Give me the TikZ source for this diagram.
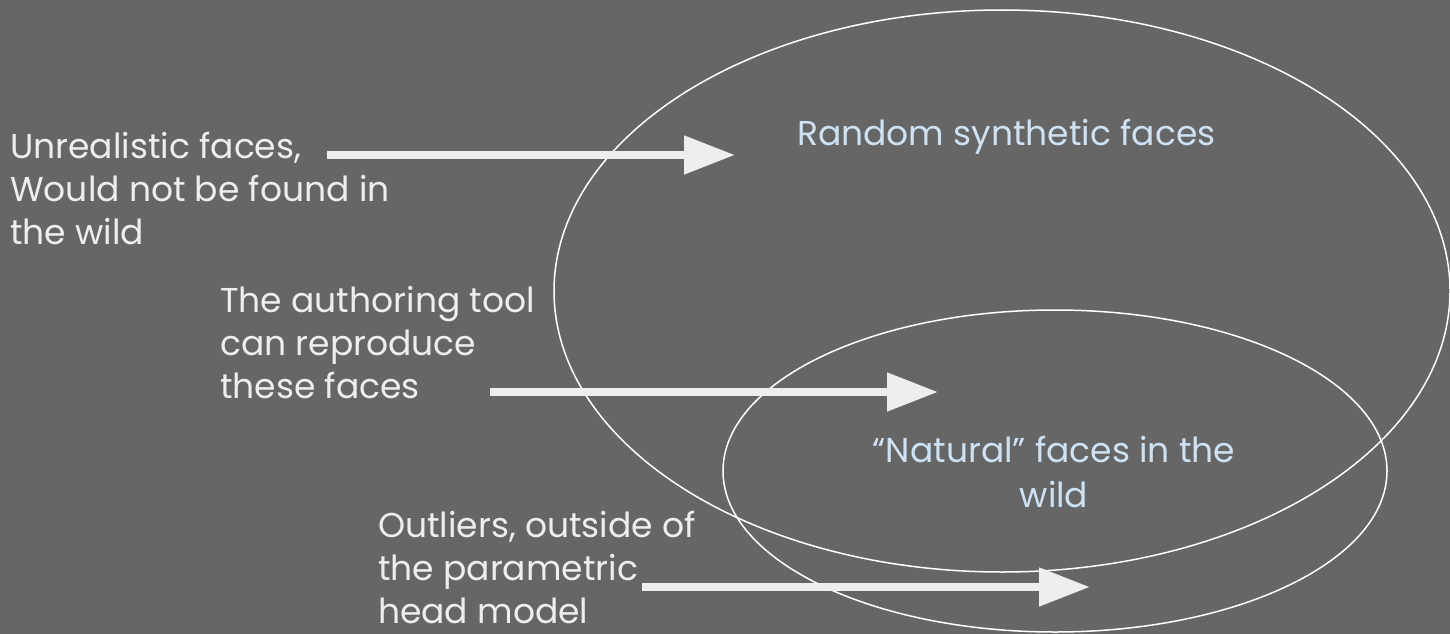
\documentclass[tikz,border=0pt]{standalone}
\usepackage{fontspec}
\setmainfont{Poppins}
\usetikzlibrary{arrows.meta,shapes.geometric}
\definecolor{bg}{HTML}{666666}
\definecolor{arrowgray}{HTML}{EEEEEE}
\definecolor{labelwhite}{HTML}{EEEEEE}
\definecolor{labelblue}{HTML}{CFE2F3}
\tikzset{
  setline/.style={draw=white, line width=1.5pt, ellipse, inner sep=0pt},
  bigarrow/.style={draw=arrowgray, line width=8pt, -{Triangle[length=51pt,width=37pt]}},
  sidelabel/.style={text=labelwhite, inner sep=0pt, anchor=base west, align=left, font=\fontsize{34.5}{43}\selectfont},
  setlabel/.style={text=labelblue, inner sep=0pt, anchor=base, align=center, font=\fontsize{34.5}{45}\selectfont},
}
\begin{document}
\begin{tikzpicture}[x=1pt,y=-1pt]
\fill[bg] (0,0) rectangle (1450,634);
\useasboundingbox (0,0) rectangle (1450,634);
% sets
\node[setline, minimum width=896pt, minimum height=562pt] (synth) at (1002,291) {};
\node[setline, minimum width=664pt, minimum height=322pt] (natural) at (1055,471) {};
% set labels (anchored at the baseline of the last line)
\node[setlabel, anchor=base west] (synthlbl) at (797,145) {Random synthetic faces};
\node[setlabel] (natlbl) at (1054,507) {“Natural” faces in the\\wild};
% side labels
\node[sidelabel] (unreal) at (10,244) {Unrealistic faces,\\Would not be found in\\the wild};
\node[sidelabel] (author) at (220,398) {The authoring tool\\can reproduce\\these faces};
\node[sidelabel] (outlier) at (378,623) {Outliers, outside of\\the parametric\\head model};
% arrow end points
\coordinate (a1s) at (327,155);
\coordinate (a1e) at (735,155);
\coordinate (a2s) at (490,392);
\coordinate (a2e) at (938,392);
\coordinate (a3s) at (642,587);
\coordinate (a3e) at (1090,587);
\draw[bigarrow] (a1s) -- (a1e);
\draw[bigarrow] (a2s) -- (a2e);
\draw[bigarrow] (a3s) -- (a3e);
\end{tikzpicture}
\end{document}
